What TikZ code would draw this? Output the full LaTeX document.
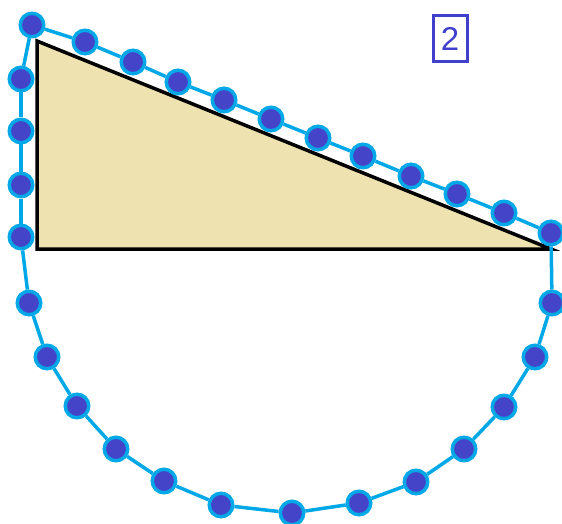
\documentclass[tikz,border=0pt]{standalone}
\usepackage{fontspec}
\setmainfont{Liberation Sans}
\usetikzlibrary{backgrounds}
\definecolor{ringblue}{RGB}{0,168,232}
\definecolor{dotblue}{RGB}{68,68,200}
\definecolor{tan}{RGB}{238,226,176}
\definecolor{labblue}{RGB}{64,64,204}
\tikzset{
  dot/.style={circle, fill=dotblue, draw=ringblue, line width=3.5pt, minimum size=23.5pt, inner sep=0pt},
  link/.style={draw=ringblue, line width=3.5pt},
  tri/.style={fill=tan, draw=black, line width=3.5pt, line join=miter},
  labelbox/.style={draw=labblue, line width=3pt, text=labblue, minimum width=34pt, minimum height=46pt, inner sep=0pt, font=\fontsize{33}{33}\selectfont}
}
\begin{document}
\begin{tikzpicture}[x=1pt,y=-1pt]
\useasboundingbox (0,0) rectangle (562,524);
% triangle vertices
\coordinate (A) at (37,41);
\coordinate (B) at (37,249);
\coordinate (C) at (551,249);
% dots
\foreach \n/\x/\y in {
  0/32/25, 1/85/42, 2/133/62, 3/178/82, 4/224/100, 5/271/119, 6/318/138,
  7/363/156, 8/411/176, 9/457/194, 10/504/213, 11/551/233,
  12/552/303, 13/535/357, 14/504/407, 15/464/449, 16/416/482, 17/359/503,
  18/292/513, 19/221/505, 20/164/481, 21/116/449, 22/77/406, 23/47/357,
  24/29/303, 25/21/237, 26/21/185, 27/21/131, 28/21/79}
  \node[dot] (d\n) at (\x,\y) {};
\node[labelbox] (lab) at (450,39) {2};
\begin{pgfonlayer}{background}
  \path[tri] (A) -- (B) -- (C) -- cycle;
  \foreach \i [remember=\i as \j (initially 28)] in {0,...,28}
    \draw[link] (d\j) -- (d\i);
\end{pgfonlayer}
\end{tikzpicture}
\end{document}
